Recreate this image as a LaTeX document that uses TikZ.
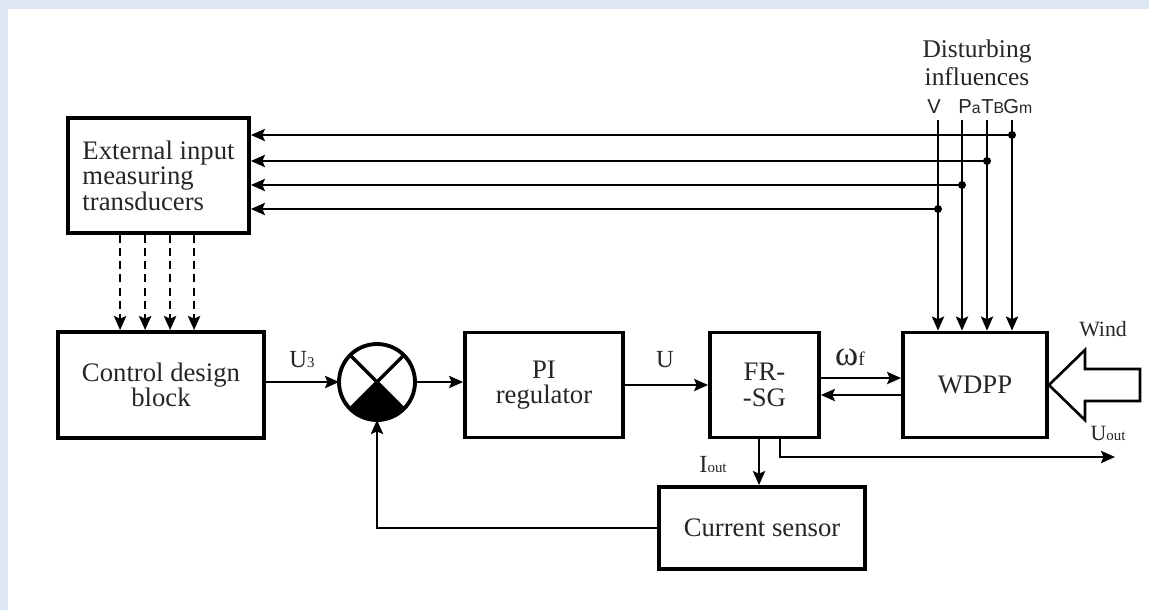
\documentclass[tikz,border=0pt]{standalone}
\usepackage{fontspec}
\setmainfont{Liberation Serif}
\newfontfamily\labelsans{Liberation Sans}
\usetikzlibrary{arrows.meta, calc, positioning}
\definecolor{framebg}{RGB}{221,231,243}
\newcommand{\lowidx}[1]{{\fontsize{8.5pt}{8.5pt}\selectfont #1}}
\newcommand{\sansidx}[1]{{\fontsize{9pt}{9pt}\selectfont #1}}

\tikzset{
    block/.style={draw, line width=2.2pt, inner sep=0pt, align=center, text=black!85, font=\fontsize{15.2pt}{14.5pt}\selectfont},
    sig/.style={line width=1.1pt, -{Stealth[length=8pt, width=7pt, inset=1.5pt]}},
    lbl/.style={inner sep=0pt, text=black!85, font=\fontsize{14pt}{14pt}\selectfont},
    idx/.style={inner sep=0pt, anchor=west, text=black!85, font=\labelsans\fontsize{11.5pt}{11.5pt}\selectfont},
}

\begin{document}
\begin{tikzpicture}[x=0.02cm, y=0.02cm]
    \useasboundingbox (0,0) rectangle (1149,610);
    \fill[framebg] (0,0) rectangle (1149,610);
    \fill[white] (8,0) rectangle (1149,601);

    % blocks
    \node[block, align=left, minimum width=3.62cm, minimum height=2.30cm] (ext) at (158.5,434.5) {External input\\measuring\\transducers};
    \node[block, minimum width=4.12cm, minimum height=2.12cm] (ctrl) at (161,225) {Control design\\block};
    \node[block, minimum width=3.16cm, minimum height=2.10cm] (pi) at (544,225) {PI\\regulator};
    \node[block, minimum width=2.18cm, minimum height=2.10cm] (frsg) at (764.5,225) {FR-\\-SG};
    \node[block, minimum width=2.88cm, minimum height=2.10cm] (wdpp) at (975,225) {WDPP};
    \node[block, minimum width=4.12cm, minimum height=1.64cm] (cs) at (762,82) {Current sensor};

    % summing junction
    \node[draw, circle, line width=2.2pt, minimum size=1.52cm, inner sep=0pt, outer sep=0pt] (sum) at (377,228) {};
    \fill (sum.center) -- (sum.-45) arc[start angle=-45, end angle=-135, radius=0.74cm] -- cycle;
    \draw[line width=2pt] (sum.45) -- (sum.-135);
    \draw[line width=2pt] (sum.135) -- (sum.-45);

    % disturbing influences
    \node[lbl, align=center, font=\fontsize{14.5pt}{16pt}\selectfont] (dist) at (977,547) {Disturbing\\influences};
    \node[idx] (lV) at (927,503) {V};
    \node[idx] (lPa) at (958,503) {P\sansidx{a}};
    \node[idx] (lTb) at (981,503) {T\sansidx{B}};
    \node[idx] (lGm) at (1003,503) {G\sansidx{m}};

    \foreach \x/\y/\n in {938/401/V, 962/425/Pa, 987/449/Tb, 1012/475/Gm} {
        \coordinate (top\n) at (\x,490);
        \coordinate (tap\n) at (\x,\y);
        \draw[sig] (top\n) -- (top\n |- wdpp.north);
        \draw[sig] (tap\n) -- (tap\n -| ext.east);
        \fill (tap\n) circle (4);
    }

    % measured values to control block
    \foreach \dx in {54,79,104,128} {
        \coordinate (d\dx) at ($(ext.south west)+(\dx,0)$);
        \draw[sig, dashed, line width=1.3pt, dash pattern=on 4.5pt off 3pt] (d\dx) -- (d\dx |- ctrl.north);
    }

    % main chain
    \draw[sig] (ctrl.east |- sum.west) -- (sum.west);
    \draw[sig] (sum.east) -- (sum.east -| pi.west);
    \draw[sig] (pi.east) -- (frsg.west);
    \draw[sig] ($(frsg.east)+(0,7)$) -- ($(wdpp.west)+(0,7)$);
    \draw[sig] ($(wdpp.west)+(0,-10)$) -- ($(frsg.east)+(0,-10)$);

    % wind
    \draw[line width=1.5pt, fill=white] (wdpp.east) -- ++(36,35) -- ++(0,-19) -- ++(55,0) -- ++(0,-32) -- ++(-55,0) -- ++(0,-19) -- cycle;

    % outputs and feedback
    \coordinate (uoutend) at (1115,153);
    \draw[sig] ($(frsg.south)+(15.5,0)$) |- (uoutend);
    \coordinate (ioutsrc) at ($(frsg.south)+(-5.5,0)$);
    \draw[sig] (ioutsrc) -- (ioutsrc |- cs.north);
    \draw[sig] (cs.west) -| (sum.south);

    % signal labels
    \node[lbl] (lU3) at (302,250) {U\lowidx{3}};
    \node[lbl] (lU) at (665,250) {U};
    \node[lbl] (lomega) at (850,253) {{\fontsize{20pt}{20pt}\selectfont ω}{\fontsize{11pt}{11pt}\selectfont f}};
    \node[lbl] (lIout) at (713,145) {I\lowidx{out}};
    \node[lbl, font=\fontsize{12.4pt}{12.4pt}\selectfont] (lwind) at (1103,281) {Wind};
    \node[lbl, font=\fontsize{12.4pt}{12.4pt}\selectfont] (lUout) at (1108,177) {U\lowidx{out}};
\end{tikzpicture}
\end{document}
